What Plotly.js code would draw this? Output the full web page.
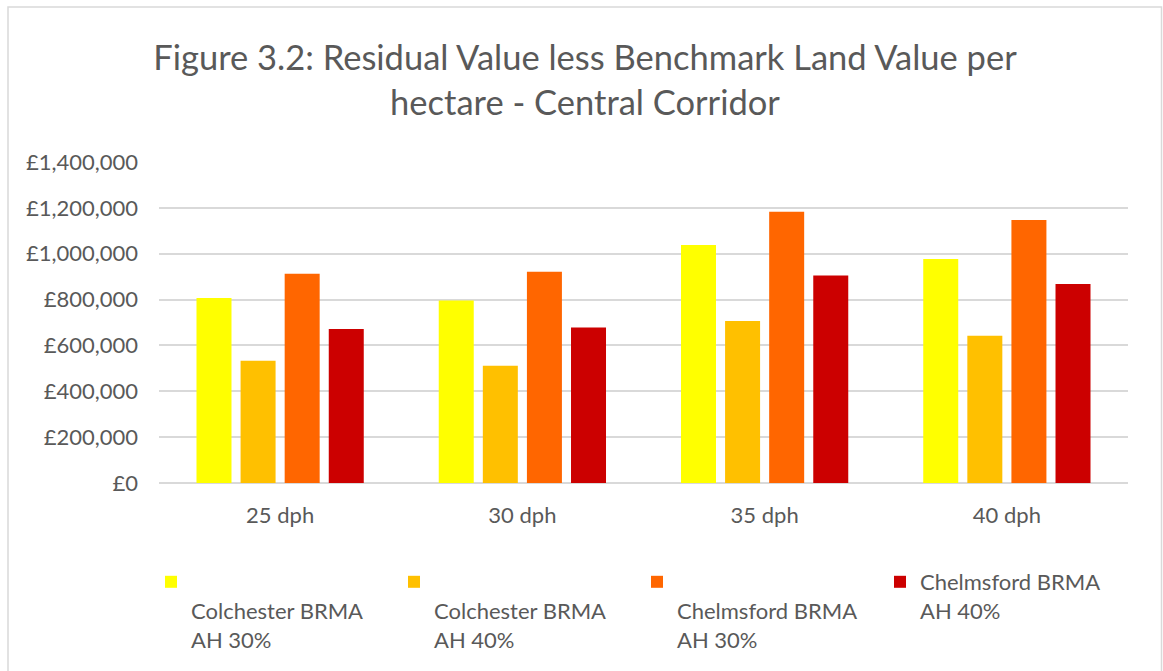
<!DOCTYPE html>
<html>
<head>
<meta charset="utf-8">
<script src="https://cdn.plot.ly/plotly-3.0.1.min.js"></script>
<style>
html,body{margin:0;padding:0;background:#fff;}
#chart{width:1163px;height:671px;}
</style>
</head>
<body>
<div id="chart"></div>
<script>
const categories = ["25 dph", "30 dph", "35 dph", "40 dph"];
const seriesNames = [
  "<br>Colchester BRMA<br>AH 30%",
  "<br>Colchester BRMA<br>AH 40%",
  "<br>Chelmsford BRMA<br>AH 30%",
  "Chelmsford BRMA<br>AH 40%"
];
const colchester30 = [807000, 796000, 1038000, 977000];
const colchester40 = [533000, 511000, 707000, 642000];
const chelmsford30 = [913000, 921000, 1183000, 1147000];
const chelmsford40 = [672000, 678000, 905000, 868000];
const colors = ["#FFFF00", "#FFC000", "#FF6600", "#CC0000"];
const tickVals = [0, 200000, 400000, 600000, 800000, 1000000, 1200000, 1400000];
const tickText = ["£0", "£200,000", "£400,000", "£600,000", "£800,000", "£1,000,000", "£1,200,000", "£1,400,000"];

const allSeries = [colchester30, colchester40, chelmsford30, chelmsford40];
const FONT = "Lato, 'Open Sans', sans-serif";
const GREY = "#595959";

const traces = allSeries.map((vals, i) => ({
  type: "bar",
  x: categories,
  y: vals,
  name: seriesNames[i],
  marker: {color: colors[i]},
  hoverinfo: "x+y"
}));

const layout = {
  width: 1163,
  height: 671,
  margin: {l: 159, r: 35, t: 162, b: 188, pad: 0, autoexpand: false},
  paper_bgcolor: "#ffffff",
  plot_bgcolor: "#ffffff",
  font: {family: FONT, color: GREY, size: 22},
  title: {
    text: "Figure 3.2: Residual Value less Benchmark Land Value per<br>hectare - Central Corridor",
    font: {family: FONT, size: 34.5, color: GREY},
    x: 585 / 1163,
    xref: "container",
    xanchor: "center",
    y: 1 - 70 / 671,
    yref: "container",
    yanchor: "top"
  },
  barmode: "group",
  bargap: 0.272,
  bargroupgap: 0.206,
  xaxis: {
    type: "category",
    showgrid: false,
    showline: false,
    zeroline: false,
    ticks: "",
    tickfont: {family: FONT, size: 22, color: GREY},
    ticklabelstandoff: 17
  },
  yaxis: {
    range: [0, 1400000],
    tickvals: tickVals,
    ticktext: tickText,
    showgrid: true,
    gridcolor: "#d9d9d9",
    gridwidth: 1.5,
    zeroline: true,
    zerolinecolor: "#d9d9d9",
    zerolinewidth: 1.5,
    showline: false,
    ticks: "",
    tickfont: {family: FONT, size: 22, color: GREY},
    ticklabelstandoff: 20
  },
  showlegend: true,
  legend: {
    orientation: "h",
    x: 151 / 1163,
    xanchor: "left",
    y: 1 - 561 / 671,
    yanchor: "top",
    xref: "container",
    yref: "container",
    entrywidth: 198,
    entrywidthmode: "pixels",
    valign: "top",
    traceorder: "normal",
    font: {family: FONT, size: 22, color: GREY},
    bgcolor: "rgba(0,0,0,0)"
  },
  shapes: [{
    type: "rect",
    xref: "paper", yref: "paper",
    x0: (8 - 159) / 969, x1: (1161.5 - 159) / 969,
    y0: (483 - 690) / 321, y1: (483 - 7) / 321,
    line: {color: "#d9d9d9", width: 1.5},
    fillcolor: "rgba(0,0,0,0)",
    layer: "below"
  }]
};

Plotly.newPlot("chart", traces, layout, {displayModeBar: false, responsive: false});
</script>
</body>
</html>
